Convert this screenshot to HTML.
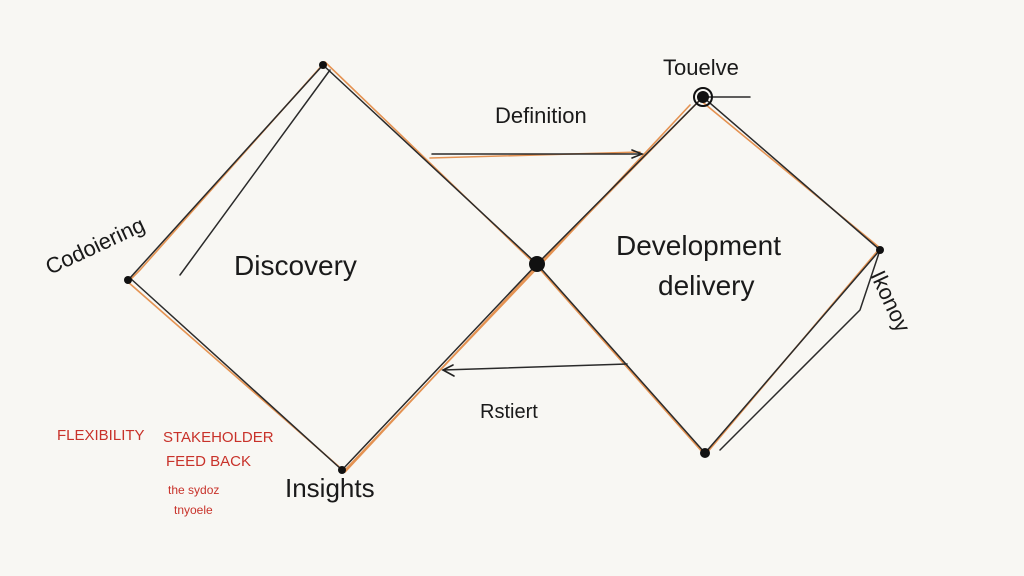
<!DOCTYPE html>
<html><head><meta charset="utf-8"><style>
html,body{margin:0;padding:0;background:#f8f7f3;}
svg{display:block}
text{font-family:"Liberation Sans",sans-serif;}
</style></head><body>
<svg width="1024" height="576" viewBox="0 0 1024 576" xmlns="http://www.w3.org/2000/svg">
<rect width="1024" height="576" fill="#f8f7f3"/>
<g fill="none" stroke-linecap="round">
<!-- orange strokes -->
<g stroke="#e07a2a" stroke-width="1.6" opacity="0.8">
<path d="M325,62 L140,270 L128,282 L345,472 L537,266 L325,62"/>
<path d="M537,266 L700,100 L880,248 L705,455 L537,266"/>
<path d="M430,158 L640,152"/>
<path d="M345,470 L545,260 L690,105"/>
</g>
<!-- dark strokes -->
<g stroke="#2a2a2a" stroke-width="1.5">
<path d="M323,65 L130,278 L342,470"/>
<path d="M323,65 L537,264 L342,470"/>
<path d="M537,264 L703,97 L880,250 L705,453 L537,264"/>
<path d="M330,70 L180,275"/>
<path d="M432,154 L642,154"/>
<path d="M627,364 L443,370"/>
<path d="M703,97 L750,97"/>
<path d="M880,250 L860,310 L720,450"/>
</g>
<path d="M632,150 L642,154 L632,158" stroke="#222" stroke-width="1.6"/>
<path d="M453,365 L443,370 L454,376" stroke="#222" stroke-width="1.6"/>
</g>
<g fill="#111">
<circle cx="323" cy="65" r="4"/>
<circle cx="128" cy="280" r="4"/>
<circle cx="342" cy="470" r="4"/>
<circle cx="537" cy="264" r="8"/>
<circle cx="703" cy="97" r="6"/>
<circle cx="880" cy="250" r="4"/>
<circle cx="705" cy="453" r="5"/>
</g>
<circle cx="703" cy="97" r="9" fill="none" stroke="#111" stroke-width="2"/>
<g fill="#1a1a1a" font-size="22">
<text x="495" y="123">Definition</text>
<text x="663" y="75">Touelve</text>
<text x="234" y="275" font-size="28">Discovery</text>
<text x="616" y="255" font-size="28">Development</text>
<text x="658" y="295" font-size="28">delivery</text>
<text x="50" y="275" transform="rotate(-25 50 275)">Codoiering</text>
<text x="870" y="275" transform="rotate(65 870 275)">Ikonoy</text>
<text x="480" y="418" font-size="20">Rstiert</text>
<text x="285" y="497" font-size="26">Insights</text>
</g>
<g fill="#c8322a" font-size="15">
<text x="57" y="440">FLEXIBILITY</text>
<text x="163" y="442">STAKEHOLDER</text>
<text x="166" y="466">FEED BACK</text>
<text x="168" y="494" font-size="12">the sydoz</text>
<text x="174" y="514" font-size="12">tnyoele</text>
</g>
</svg>
</body></html>
